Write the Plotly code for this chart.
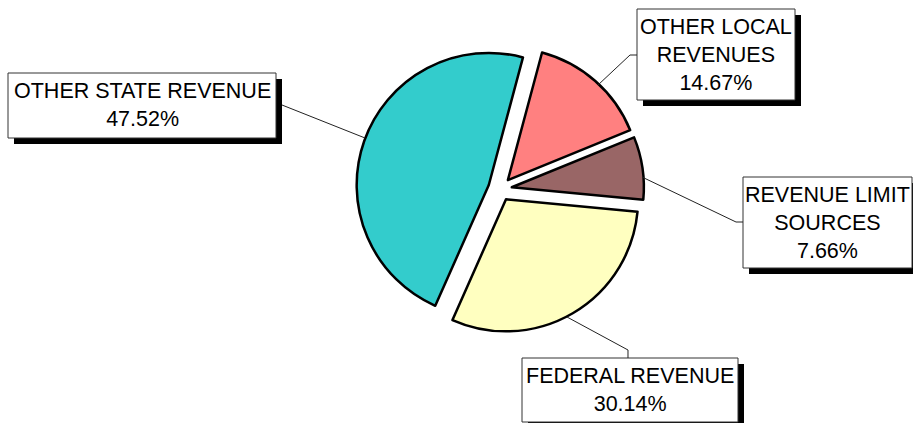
import plotly.graph_objects as go

W, H = 913, 423

# slice data, clockwise from the top
labels = ["OTHER LOCAL<br>REVENUES", "REVENUE LIMIT<br>SOURCES", "FEDERAL REVENUE", "OTHER STATE REVENUE"]
values = [14.67, 7.66, 30.14, 47.52]
colors = ["#FF8080", "#996666", "#FFFFC0", "#33CCCC"]

# label boxes in pixels: center x, center y, width, height
boxes = [(716, 54.5, 158, 91), (827.5, 222.5, 169, 91), (630, 390, 216, 64), (142, 105.5, 268, 65)]
# leader lines in pixels
leaders = [
    [(637, 55), (630, 55), (598, 85)],
    [(743, 222), (736, 222), (642, 177)],
    [(628, 358), (628, 350), (567, 317)],
    [(282, 105), (365, 138)],
]


def px(x):
    return x / W


def py(y):
    return 1 - y / H


fig = go.Figure()

fig.add_trace(
    go.Pie(
        labels=[l.replace("<br>", " ") for l in labels],
        values=values,
        sort=False,
        direction="clockwise",
        rotation=15,
        pull=[0.09] * len(values),
        textinfo="none",
        hoverinfo="label+percent",
        marker=dict(colors=colors, line=dict(color="black", width=2.5)),
        domain=dict(x=[px(356), px(644)], y=[py(333), py(45)]),
        showlegend=False,
    )
)

shapes = []
annotations = []
for (cx, cy, bw, bh), lab, val in zip(boxes, labels, values):
    x0, x1 = cx - bw / 2, cx + bw / 2
    y0, y1 = cy - bh / 2, cy + bh / 2
    # drop shadow
    shapes.append(dict(type="rect", xref="paper", yref="paper",
                       x0=px(x0 + 6), x1=px(x1 + 6), y0=py(y1 + 6), y1=py(y0 + 6),
                       fillcolor="black", line=dict(width=0)))
    shapes.append(dict(type="rect", xref="paper", yref="paper",
                       x0=px(x0), x1=px(x1), y0=py(y1), y1=py(y0),
                       fillcolor="white", line=dict(color="#333333", width=1)))
    annotations.append(dict(xref="paper", yref="paper", x=px(cx), y=py(cy),
                            xanchor="center", yanchor="middle", align="center",
                            text="%s<br>%.2f%%" % (lab, val), showarrow=False,
                            font=dict(family="Arial, Liberation Sans", size=21.5, color="black")))

for pts in leaders:
    path = "M " + " L ".join("%f,%f" % (px(x), py(y)) for x, y in pts)
    shapes.append(dict(type="path", xref="paper", yref="paper", path=path,
                       line=dict(color="#222222", width=1)))

fig.update_layout(
    width=W,
    height=H,
    margin=dict(l=0, r=0, t=0, b=0),
    paper_bgcolor="white",
    plot_bgcolor="white",
    shapes=shapes,
    annotations=annotations,
)

# drop the page's default body margin so the figure sits at the window corner
fig.write_html("out.html", config={"displayModeBar": False},
               post_script="document.body.style.margin='0';")
